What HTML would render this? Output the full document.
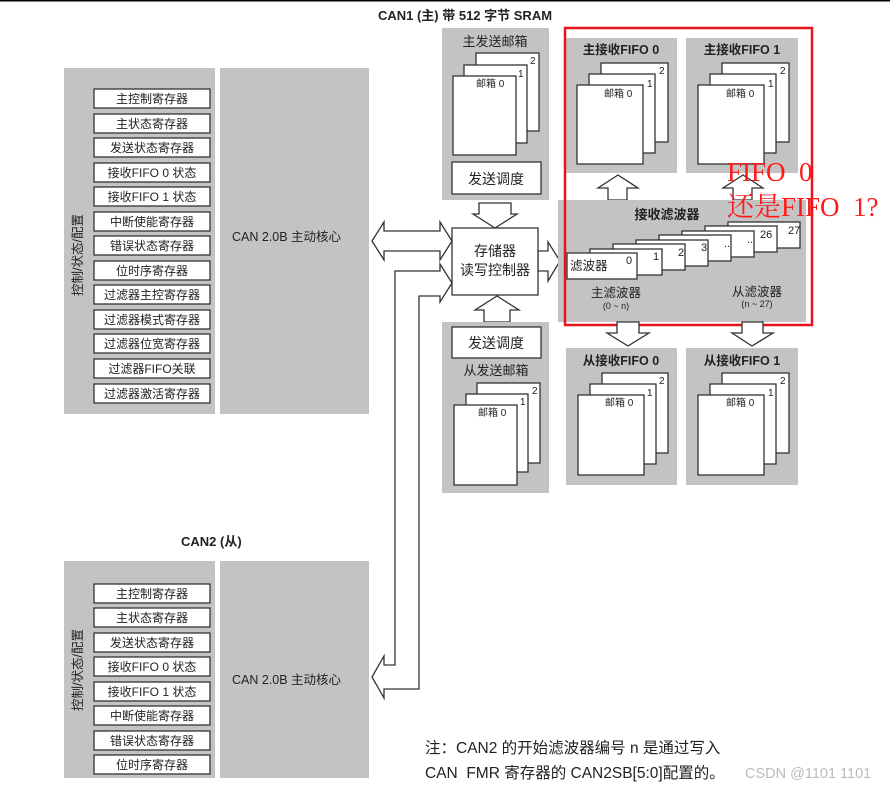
<!DOCTYPE html>
<html><head><meta charset="utf-8"><style>
body{margin:0;background:#fff}
svg text{font-family:"Liberation Sans","Noto Sans CJK SC",sans-serif;fill:#222}
.b{font-weight:bold}
</style></head><body>
<svg width="890" height="788" viewBox="0 0 890 788" xmlns="http://www.w3.org/2000/svg">
<rect x="0" y="0" width="890" height="1.5" fill="#000"/>
<text x="465" y="20" font-size="13" class="b" text-anchor="middle">CAN1 (主) 带 512 字节 SRAM</text>

<!-- CAN1 panels -->
<rect x="64" y="68" width="151" height="346" fill="#c3c3c3"/>
<rect x="220" y="68" width="149" height="346" fill="#c3c3c3"/>
<text x="232" y="241" font-size="12.5">CAN 2.0B  主动核心</text>
<text transform="translate(82,255) rotate(-90)" font-size="12.5" text-anchor="middle">控制/状态/配置</text>
<g font-size="12" text-anchor="middle" stroke-width="1.3">
<g fill="#fff" stroke="#333">
<rect x="94" y="89" width="116" height="19"/><rect x="94" y="114" width="116" height="19"/><rect x="94" y="138" width="116" height="19"/><rect x="94" y="163" width="116" height="19"/><rect x="94" y="187" width="116" height="19"/><rect x="94" y="212" width="116" height="19"/><rect x="94" y="236" width="116" height="19"/><rect x="94" y="261" width="116" height="19"/><rect x="94" y="285" width="116" height="19"/><rect x="94" y="310" width="116" height="19"/><rect x="94" y="334" width="116" height="19"/><rect x="94" y="359" width="116" height="19"/><rect x="94" y="384" width="116" height="19"/>
</g>
<text x="152" y="103">主控制寄存器</text><text x="152" y="128">主状态寄存器</text><text x="152" y="152">发送状态寄存器</text><text x="152" y="177">接收FIFO 0 状态</text><text x="152" y="201">接收FIFO 1 状态</text><text x="152" y="226">中断使能寄存器</text><text x="152" y="250">错误状态寄存器</text><text x="152" y="275">位时序寄存器</text><text x="152" y="299">过滤器主控寄存器</text><text x="152" y="324">过滤器模式寄存器</text><text x="152" y="348">过滤器位宽寄存器</text><text x="152" y="373">过滤器FIFO关联</text><text x="152" y="398">过滤器激活寄存器</text>
</g>

<!-- CAN2 -->
<text x="181" y="546" font-size="13" class="b">CAN2 (从)</text>
<rect x="64" y="561" width="151" height="217" fill="#c3c3c3"/>
<rect x="220" y="561" width="149" height="217" fill="#c3c3c3"/>
<text x="232" y="684" font-size="12.5">CAN 2.0B  主动核心</text>
<text transform="translate(82,670) rotate(-90)" font-size="12.5" text-anchor="middle">控制/状态/配置</text>
<g font-size="12" text-anchor="middle" stroke-width="1.3">
<g fill="#fff" stroke="#333">
<rect x="94" y="584" width="116" height="19"/><rect x="94" y="608" width="116" height="19"/><rect x="94" y="633" width="116" height="19"/><rect x="94" y="657" width="116" height="19"/><rect x="94" y="682" width="116" height="19"/><rect x="94" y="706" width="116" height="19"/><rect x="94" y="731" width="116" height="19"/><rect x="94" y="755" width="116" height="19"/>
</g>
<text x="152" y="598">主控制寄存器</text><text x="152" y="622">主状态寄存器</text><text x="152" y="647">发送状态寄存器</text><text x="152" y="671">接收FIFO 0 状态</text><text x="152" y="696">接收FIFO 1 状态</text><text x="152" y="720">中断使能寄存器</text><text x="152" y="745">错误状态寄存器</text><text x="152" y="769">位时序寄存器</text>
</g>

<!-- arrows -->
<g fill="#fff" stroke="#333" stroke-width="1.3">
<polygon points="372,241 384,222 384,231 440,231 440,222 452,241 440,260 440,251 384,251 384,260"/>
<polygon points="452,283 440,264 440,271 395,271 395,665 384,665 384,656 372,677 384,698 384,689 419,689 419,296 440,296 440,302"/>
<polygon points="479,203 479,214 473,214 495,228 517,214 511,214 511,203"/>
<polygon points="484,322 484,310 475,310 497,296 519,310 510,310 510,322"/>
<polygon points="538,251 548,251 548,242 560,261 548,281 548,271 538,271"/>
<rect x="452" y="228" width="86" height="67"/>
</g>
<text x="495" y="256" font-size="14" text-anchor="middle">存储器</text>
<text x="495" y="275" font-size="14" text-anchor="middle">读写控制器</text>

<!-- main tx mailbox -->
<rect x="442" y="28" width="107" height="172" fill="#c3c3c3"/>
<text x="495" y="46" font-size="13" text-anchor="middle">主发送邮箱</text>
<g fill="#fff" stroke="#333" stroke-width="1.3">
<rect x="476" y="53" width="63" height="78"/><rect x="464" y="65" width="63" height="78"/><rect x="453" y="76" width="63" height="79"/>
<rect x="452" y="162" width="89" height="32"/>
</g>
<g font-size="10"><text x="530" y="64">2</text><text x="518" y="77">1</text><text x="476" y="87">邮箱 0</text></g>
<text x="496" y="184" font-size="14" text-anchor="middle">发送调度</text>

<!-- slave tx mailbox -->
<rect x="442" y="322" width="107" height="171" fill="#c3c3c3"/>
<g fill="#fff" stroke="#333" stroke-width="1.3">
<rect x="452" y="327" width="89" height="31"/>
<rect x="477" y="383" width="63" height="80"/><rect x="466" y="394" width="62" height="78"/><rect x="454" y="405" width="63" height="80"/>
</g>
<text x="496" y="348" font-size="14" text-anchor="middle">发送调度</text>
<text x="496" y="375" font-size="13" text-anchor="middle">从发送邮箱</text>
<g font-size="10"><text x="532" y="394">2</text><text x="520" y="405">1</text><text x="478" y="416">邮箱 0</text></g>

<!-- receive FIFOs main -->
<rect x="566" y="38" width="111" height="135" fill="#c3c3c3"/>
<rect x="686" y="38" width="112" height="135" fill="#c3c3c3"/>
<g font-size="12.5" class="b" text-anchor="middle"><text x="621" y="54">主接收FIFO 0</text><text x="742" y="54">主接收FIFO 1</text></g>
<g fill="#fff" stroke="#333" stroke-width="1.3">
<rect x="601" y="63" width="67" height="79"/><rect x="589" y="74" width="66" height="79"/><rect x="577" y="85" width="66" height="79"/>
<rect x="722" y="63" width="67" height="79"/><rect x="710" y="74" width="66" height="79"/><rect x="698" y="85" width="66" height="79"/>
</g>
<g font-size="10"><text x="659" y="74">2</text><text x="647" y="87">1</text><text x="604" y="97">邮箱 0</text>
<text x="780" y="74">2</text><text x="768" y="87">1</text><text x="726" y="97">邮箱 0</text></g>

<g fill="#fff" stroke="#333" stroke-width="1.3">
<polygon points="608,200 608,188 598,188 618,175 638,188 627,188 627,200"/>
<polygon points="733,200 733,188 723,188 743,175 763,188 752,188 752,200"/>
</g>

<!-- filters -->
<rect x="558" y="200" width="248" height="122" fill="#c3c3c3"/>
<text x="667" y="219" font-size="13" class="b" text-anchor="middle">接收滤波器</text>
<g fill="#fff" stroke="#333" stroke-width="1.3">
<rect x="728" y="222" width="72" height="26"/><rect x="705" y="226" width="72" height="26"/><rect x="682" y="231" width="72" height="26"/><rect x="659" y="235" width="72" height="26"/><rect x="636" y="240" width="72" height="26"/><rect x="613" y="244" width="72" height="26"/><rect x="590" y="249" width="72" height="26"/><rect x="567" y="253" width="70" height="26"/>
</g>
<g font-size="11"><text x="788" y="234">27</text><text x="760" y="238">26</text><text x="747" y="243">..</text><text x="724" y="247">..</text><text x="701" y="251">3</text><text x="678" y="256">2</text><text x="653" y="260">1</text><text x="626" y="264">0</text><text x="570" y="270" font-size="12.5">滤波器</text></g>
<g text-anchor="middle"><text x="616" y="297" font-size="12.5">主滤波器</text><text x="616" y="309" font-size="9">(0 ~ n)</text>
<text x="757" y="296" font-size="12.5">从滤波器</text><text x="757" y="307" font-size="9">(n ~ 27)</text></g>

<rect x="565" y="28" width="247" height="297" fill="none" stroke="#e8141c" stroke-width="2.5"/>

<g fill="#fff" stroke="#333" stroke-width="1.3">
<polygon points="617,322 617,333 607,333 628,346 649,333 639,333 639,322"/>
<polygon points="742,322 742,333 732,333 752,346 773,333 763,333 763,322"/>
</g>

<!-- slave receive FIFOs -->
<rect x="566" y="348" width="111" height="137" fill="#c3c3c3"/>
<rect x="686" y="348" width="112" height="137" fill="#c3c3c3"/>
<g font-size="12.5" class="b" text-anchor="middle"><text x="621" y="365">从接收FIFO 0</text><text x="742" y="365">从接收FIFO 1</text></g>
<g fill="#fff" stroke="#333" stroke-width="1.3">
<rect x="602" y="373" width="66" height="80"/><rect x="590" y="384" width="66" height="80"/><rect x="578" y="395" width="66" height="80"/>
<rect x="722" y="373" width="67" height="80"/><rect x="710" y="384" width="66" height="80"/><rect x="698" y="395" width="66" height="80"/>
</g>
<g font-size="10"><text x="659" y="384">2</text><text x="647" y="396">1</text><text x="605" y="406">邮箱 0</text>
<text x="780" y="384">2</text><text x="768" y="396">1</text><text x="726" y="406">邮箱 0</text></g>

<!-- red annotation -->
<text x="727" y="181" font-size="27" style="fill:#ff1a1a;font-family:'Liberation Serif','Noto Serif CJK SC',serif;white-space:pre" xml:space="preserve">FIFO  0</text>
<text x="727" y="216" font-size="27" style="fill:#ff1a1a;font-family:'Liberation Serif','Noto Serif CJK SC',serif;white-space:pre" xml:space="preserve">还是FIFO  1?</text>

<!-- note -->
<text x="425" y="753" font-size="15.5">注：CAN2 的开始滤波器编号 n 是通过写入</text>
<text x="425" y="778" font-size="15.5" xml:space="preserve">CAN  FMR 寄存器的 CAN2SB[5:0]配置的。</text>
<text x="745" y="778" font-size="14.5" style="fill:#bbb">CSDN @1101 1101</text>
</svg>
</body></html>
